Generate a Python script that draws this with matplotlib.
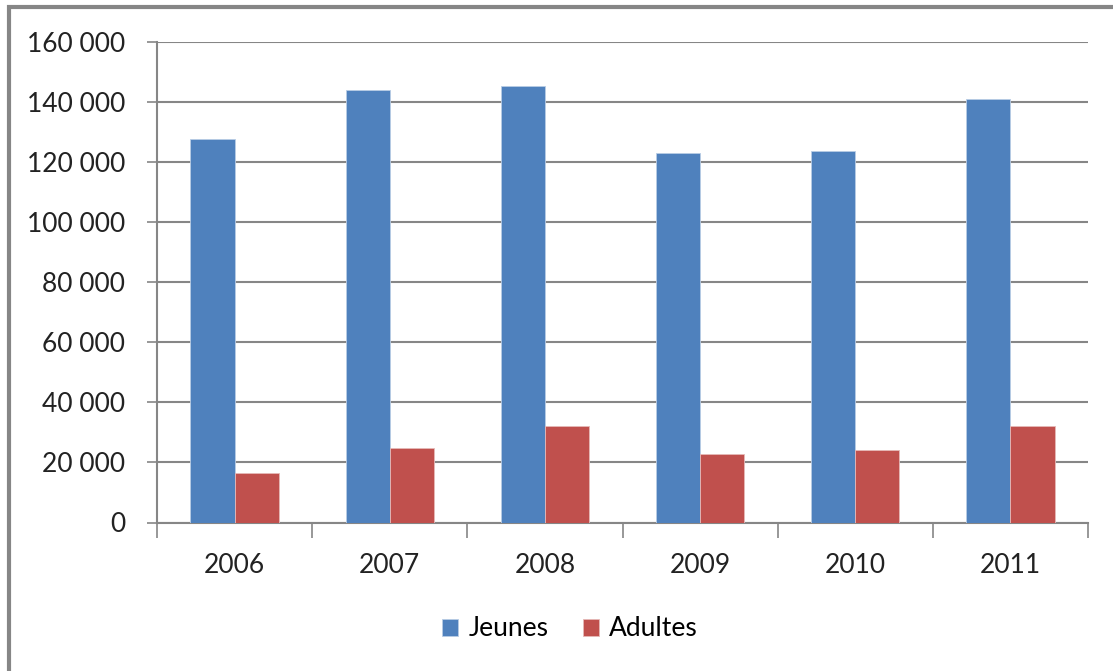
import numpy as np
import matplotlib.pyplot as plt
from matplotlib.patches import Rectangle
from matplotlib.ticker import FuncFormatter

years = ['2006', '2007', '2008', '2009', '2010', '2011']
jeunes = [127600, 143900, 145300, 123100, 123700, 140900]
adultes = [16400, 24800, 32200, 22900, 24300, 32200]

blue = '#4F81BD'
red = '#C0504D'
grey = '#868686'

plt.rcParams['font.family'] = ['Lato', 'DejaVu Sans']

fig = plt.figure(figsize=(11.13, 6.71), dpi=100)
ax = fig.add_axes([157 / 1113, 1 - 522.5 / 671, (1088 - 157) / 1113, (522.5 - 42) / 671])

x = np.arange(len(years))
w = 0.285
ax.bar(x - w / 2, jeunes, w, color=blue, edgecolor='#B9CDE5', linewidth=0.6, label='Jeunes', zorder=3)
ax.bar(x + w / 2, adultes, w, color=red, edgecolor='#E6B9B8', linewidth=0.6, label='Adultes', zorder=3)

ax.set_xlim(-0.5, len(years) - 0.5)
ax.set_ylim(0, 160000)
ax.set_yticks(np.arange(0, 160001, 20000))
ax.yaxis.set_major_formatter(FuncFormatter(lambda v, p: '{:,}'.format(int(v)).replace(',', ' ')))
ax.grid(axis='y', color=grey, linewidth=1.5, zorder=0)

# ticks on category boundaries, labels at centres
ax.set_xticks(np.arange(-0.5, len(years), 1.0))
ax.set_xticklabels([])
ax.set_xticks(x, minor=True)
ax.set_xticklabels(years, minor=True)
ax.tick_params(axis='x', which='major', length=11, width=1.2, color=grey)
ax.tick_params(axis='x', which='minor', length=0, pad=22, labelsize=19, labelcolor='#222222')
ax.tick_params(axis='y', length=7, width=1.2, color=grey, pad=16, labelsize=19, labelcolor='#222222')

for s in ['top', 'right']:
    ax.spines[s].set_visible(False)
for s in ['left', 'bottom']:
    ax.spines[s].set_color(grey)
    ax.spines[s].set_linewidth(1.5)

fig.legend(loc='center', bbox_to_anchor=(570 / 1113, 1 - 629 / 671), ncol=2, frameon=False,
           fontsize=19, handlelength=0.6, handleheight=0.6, handletextpad=0.4, columnspacing=1.3)

# outer chart frame
fig.patches.append(Rectangle((9 / 1113, -0.1), 1.2, 1 - 7 / 671 + 0.1, transform=fig.transFigure,
                             fill=False, edgecolor=grey, linewidth=3))

plt.savefig('out.png', dpi=100)
